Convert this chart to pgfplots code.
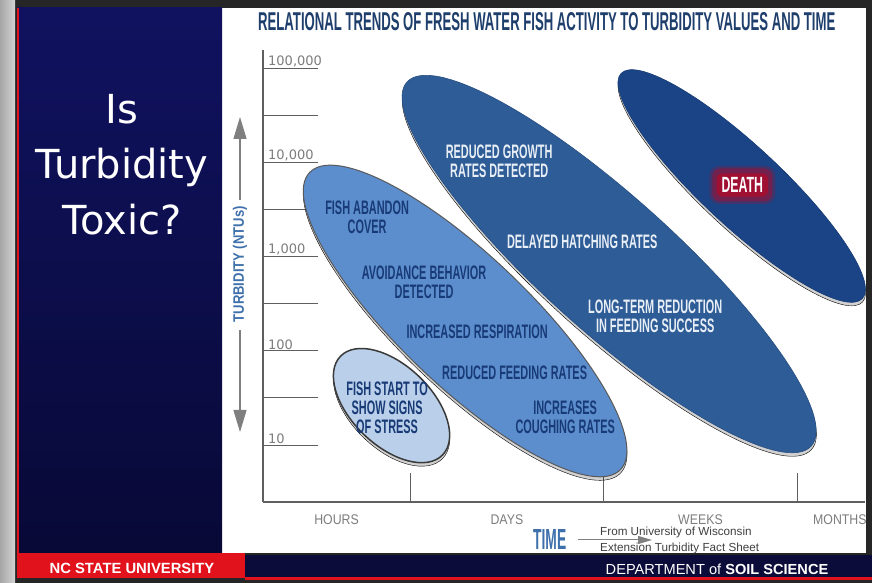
\documentclass[border=0pt]{standalone}
\usepackage{pgfplots}
\pgfplotsset{compat=1.18}
\usepackage{fontspec}
\setmainfont{Liberation Sans}
\newfontfamily\condf[FakeStretch=0.56]{Liberation Sans}
\newfontfamily\tickf[FakeStretch=0.88]{Liberation Sans}
\newfontfamily\dejavu{DejaVu Sans}
\usetikzlibrary{arrows.meta}

\definecolor{navyT}{RGB}{16,18,96}
\definecolor{navyB}{RGB}{8,9,54}
\definecolor{redbar}{RGB}{226,18,28}
\definecolor{navybar}{RGB}{12,12,58}
\definecolor{titleblue}{RGB}{30,62,108}
\definecolor{labblue}{RGB}{62,112,172}
\definecolor{colA}{RGB}{186,208,234}
\definecolor{colB}{RGB}{92,142,206}
\definecolor{colC}{RGB}{46,92,150}
\definecolor{colD}{RGB}{26,68,134}
\definecolor{darktxt}{RGB}{24,58,118}
\definecolor{lighttxt}{RGB}{232,238,246}
\definecolor{tickgray}{RGB}{125,125,125}
\definecolor{axgray}{RGB}{95,95,95}
\definecolor{deathred}{RGB}{160,16,50}

\pgfdeclareplotmark{ellA}{\pgfpathellipse{\pgfpointorigin}{\pgfqpoint{71pt}{0pt}}{\pgfqpoint{0pt}{40pt}}\pgfusepathqfillstroke}
\pgfdeclareplotmark{ellB}{\pgfpathellipse{\pgfpointorigin}{\pgfqpoint{215pt}{0pt}}{\pgfqpoint{0pt}{65pt}}\pgfusepathqfillstroke}
\pgfdeclareplotmark{ellC}{\pgfpathellipse{\pgfpointorigin}{\pgfqpoint{272pt}{0pt}}{\pgfqpoint{0pt}{67pt}}\pgfusepathqfillstroke}
\pgfdeclareplotmark{ellD}{\pgfpathellipse{\pgfpointorigin}{\pgfqpoint{165pt}{0pt}}{\pgfqpoint{0pt}{40pt}}\pgfusepathqfillstroke}

\newcommand{\ellfont}{\condf\bfseries\fontsize{19.5}{19}\selectfont}

\begin{document}
\begin{tikzpicture}[x=1pt,y=1pt]
\useasboundingbox (0,0) rectangle (872,583);
% slide background
\fill[black!85] (0,0) rectangle (872,583);
\shade[left color=gray!70, right color=gray!35] (0,0) rectangle (15,583);
\fill[white] (222,30) rectangle (866,575);
\shade[top color=navyT, bottom color=navyB] (17,30) rectangle (222,575);
\fill[redbar] (17,30) rectangle (19,575);
\fill[redbar] (17,5) rectangle (245,30);
\fill[navybar] (245,6) rectangle (872,28);
\fill[redbar] (245,3) rectangle (872,6);

% left panel title
\node[anchor=base, white, font=\dejavu\fontsize{40}{40}\selectfont, inner sep=0] at (122,459) {Is};
\node[anchor=base, white, font=\dejavu\fontsize{40}{40}\selectfont, inner sep=0] at (122,404) {Turbidity};
\node[anchor=base, white, font=\dejavu\fontsize{40}{40}\selectfont, inner sep=0] at (122,348) {Toxic?};

% footer
\node[anchor=base, white, font=\bfseries\fontsize{14.8}{16}\selectfont, inner sep=0] at (132,9.5) {NC STATE UNIVERSITY};
\node[anchor=base, white, font=\fontsize{14.6}{16}\selectfont, inner sep=0] at (717,8) {DEPARTMENT of \textbf{SOIL SCIENCE}};

% chart title
\node[anchor=base west, inner sep=0, text=titleblue] at (258,552) {\resizebox{577pt}{18pt}{\condf\bfseries RELATIONAL TRENDS OF FRESH WATER FISH ACTIVITY TO TURBIDITY VALUES AND TIME}};

\begin{axis}[
  at={(263pt,81pt)}, anchor=south west,
  scale only axis, width=602pt, height=452pt,
  xmin=0.24, xmax=3.35,
  ymode=log, ymin=2.485, ymax=155300,
  clip=false,
  axis x line=bottom, axis y line=left,
  x axis line style={-, draw=axgray, line width=1.6pt},
  y axis line style={-, draw=axgray, line width=1.6pt},
  xtick={0.62,1.5,2.5,3.22},
  xticklabels={HOURS,DAYS,WEEKS,MONTHS},
  xtick style={draw=none},
  xticklabel style={font=\tickf\fontsize{14}{14}\selectfont, text=tickgray, anchor=base, yshift=-23pt},
  extra x ticks={1,2,3},
  extra x tick labels={},
  extra x tick style={xtick style={draw=axgray, line width=1.1pt}, major tick length=29pt, tick align=inside},
  ytick={10,100,1000,10000,100000},
  yticklabels={10,100,{1,000},{10,000},{100,000}},
  yminorticks=false,
  ytick style={draw=axgray, line width=1pt},
  major tick length=55pt, tick align=inside,
  yticklabel style={font=\dejavu\fontsize{13}{13}\selectfont, text=tickgray, anchor=south west, xshift=4pt, yshift=0pt, inner sep=1pt},
  extra y ticks={31.62,316.2,3162,31623},
  extra y tick labels={},
  extra y tick style={ytick style={draw=axgray, line width=1pt}},
  ylabel={\resizebox{116pt}{11pt}{\condf\bfseries TURBIDITY (NTUs)}},
  ylabel style={at={(axis description cs:-0.0385,0.526)}, anchor=center, text=labblue, inner sep=0},
]
% shadows and ellipses (drawn D, C, B, A)
\addplot[only marks, mark=ellD, mark options={rotate=-43, xshift=2.5pt, yshift=-2.5pt, fill=black, fill opacity=0.18, draw=none}] coordinates {(2.713,5600)};
\addplot[only marks, mark=ellD, mark options={rotate=-43, fill=colD, draw=colD!85!black, line width=0.6pt}] coordinates {(2.713,5600)};
\addplot[only marks, mark=ellC, mark options={rotate=-42, xshift=2.5pt, yshift=-2.5pt, fill=black, fill opacity=0.18, draw=none}] coordinates {(2.028,832)};
\addplot[only marks, mark=ellC, mark options={rotate=-42, fill=colC, draw=colC!85!black, line width=0.6pt}] coordinates {(2.028,832)};
\addplot[only marks, mark=ellB, mark options={rotate=-43.7, xshift=2.5pt, yshift=-2.5pt, fill=black, fill opacity=0.18, draw=none}] coordinates {(1.284,207)};
\addplot[only marks, mark=ellB, mark options={rotate=-43.7, fill=colB, draw=gray!70!black, line width=1pt}] coordinates {(1.284,207)};
\addplot[only marks, mark=ellA, mark options={rotate=-44, xshift=2.5pt, yshift=-2.5pt, fill=black, fill opacity=0.18, draw=none}] coordinates {(0.904,26.2)};
\addplot[only marks, mark=ellA, mark options={rotate=-44, fill=colA, draw=gray!45!black, line width=1.5pt}] coordinates {(0.904,26.2)};

% label anchors in data coordinates
\coordinate (tA)  at (axis cs:0.881,24.7);
\coordinate (tB1) at (axis cs:0.778,2624);
\coordinate (tB2) at (axis cs:1.072,530);
\coordinate (tB3) at (axis cs:1.346,158);
\coordinate (tB4) at (axis cs:1.540,58.1);
\coordinate (tB5) at (axis cs:1.801,19.6);
\coordinate (tC1) at (axis cs:1.460,10300);
\coordinate (tC2) at (axis cs:1.889,1426);
\coordinate (tC3) at (axis cs:2.266,230.8);
\coordinate (tD)  at (axis cs:2.716,5740);
\end{axis}

% labels inside ellipses
\node[align=center, text=darktxt, font=\ellfont] at (tA) {FISH START TO\\SHOW SIGNS\\OF STRESS};
\node[align=center, text=darktxt, font=\ellfont] at (tB1) {FISH ABANDON\\COVER};
\node[align=center, text=darktxt, font=\ellfont] at (tB2) {AVOIDANCE BEHAVIOR\\DETECTED};
\node[align=center, text=darktxt, font=\ellfont] at (tB3) {INCREASED RESPIRATION};
\node[align=center, text=darktxt, font=\ellfont] at (tB4) {REDUCED FEEDING RATES};
\node[align=center, text=darktxt, font=\ellfont] at (tB5) {INCREASES\\COUGHING RATES};
\node[align=center, text=lighttxt, font=\ellfont] at (tC1) {REDUCED GROWTH\\RATES DETECTED};
\node[align=center, text=lighttxt, font=\ellfont] at (tC2) {DELAYED HATCHING RATES};
\node[align=center, text=lighttxt, font=\ellfont] at (tC3) {LONG-TERM REDUCTION\\IN FEEDING SUCCESS};
\node[fill=deathred!80!colD, fill opacity=0.35, rounded corners=10pt, minimum width=66pt, minimum height=38pt] at (tD) {};
\node[fill=deathred!90!colD, fill opacity=0.6, rounded corners=8pt, minimum width=60pt, minimum height=33pt] at (tD) {};
\node[fill=deathred, rounded corners=6pt, text=white, font=\condf\bfseries\fontsize{22}{22}\selectfont, inner xsep=5pt, inner ysep=4pt] at (tD) {DEATH};

% y-label arrows
\draw[axgray!80, line width=1.3pt, -{Triangle[length=22pt,width=13pt]}] (240,383) -- (240,466);
\draw[axgray!80, line width=1.3pt, -{Triangle[length=22pt,width=13pt]}] (240,253) -- (240,151);

% time label and source
\node[anchor=base west, inner sep=0, text=labblue] at (533,33) {\resizebox{33pt}{20pt}{\condf\bfseries TIME}};
\node[anchor=base west, inner sep=0, text=black!75, font=\fontsize{11.7}{14}\selectfont] at (600,47) {From University of Wisconsin};
\node[anchor=base west, inner sep=0, text=black!75, font=\fontsize{11.7}{14}\selectfont] at (600,31) {Extension Turbidity Fact Sheet};
\draw[gray, line width=1pt, -{Triangle[length=14pt,width=8pt]}] (578,43) -- (652,43);
\end{tikzpicture}
\end{document}
